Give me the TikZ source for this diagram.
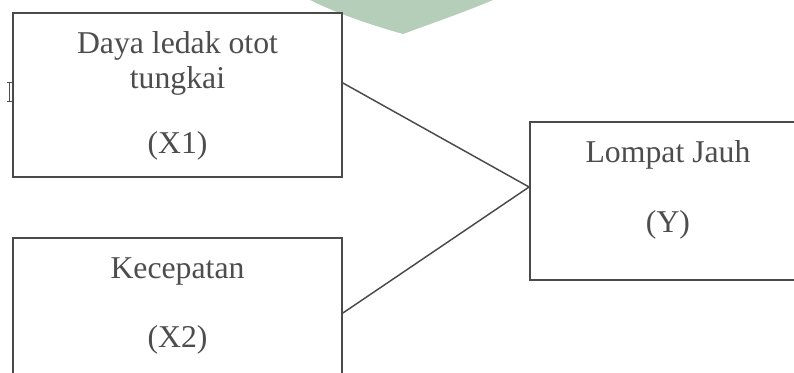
\documentclass[tikz,border=0pt]{standalone}
\usepackage{fontspec}
\setmainfont{Liberation Serif}
\usetikzlibrary{calc}
\definecolor{linegray}{HTML}{4A4A4A}
\definecolor{textgray}{HTML}{4D4D4D}
\definecolor{wmgreen}{HTML}{B4CEB9}
\begin{document}
\begin{tikzpicture}[x=0.75pt,y=-0.75pt,
  box/.style={draw=linegray,line width=1.4pt,fill=white,rectangle,inner sep=0pt},
  lbl/.style={text=textgray,anchor=base,inner sep=0pt,font=\fontsize{23.8}{28}\selectfont},
  link/.style={draw=linegray,line width=1.1pt}]
\useasboundingbox (0,0) rectangle (794,372);
\clip (0,0) rectangle (794,372);
% watermark fragment
\fill[wmgreen] (300,-10) -- (310,0) .. controls (340,15) and (375,26) .. (403,34) .. controls (430,24) and (465,12) .. (493,0) -- (505,-10) -- cycle;
% partly hidden glyph left of the first box
\draw[textgray,line width=0.9pt] (9.5,82) -- (9.5,102);
\draw[textgray,line width=0.8pt] (7,82.5) -- (12,82.5) (7,101.5) -- (12,101.5);
% boxes
\node[box,minimum width=329*0.75pt,minimum height=164*0.75pt] (x1) at (177.5,95) {};
\node[box,minimum width=329*0.75pt,minimum height=200*0.75pt] (x2) at (177.5,338) {};
\node[box,minimum width=276*0.75pt,minimum height=158*0.75pt] (y) at (668,201) {};
% texts
\node[lbl] (t1a) at (177.5,53) {Daya ledak otot};
\node[lbl] (t1b) at (177.5,88) {tungkai};
\node[lbl] (t1c) at (177.5,153) {(X1)};
\node[lbl] (t2a) at (177.5,278) {Kecepatan};
\node[lbl] (t2b) at (177.5,347) {(X2)};
\node[lbl] (t3a) at (668,162) {Lompat Jauh};
\node[lbl] (t3b) at (668,232) {(Y)};
% connectors
\coordinate (p1) at ($(x1.east)+(0,-12)$);
\coordinate (p2) at ($(x2.east)+(0,-25)$);
\coordinate (q) at ($(y.west)+(0,-14)$);
\draw[link] (p1) -- (q);
\draw[link] (p2) -- (q);
\end{tikzpicture}
\end{document}
